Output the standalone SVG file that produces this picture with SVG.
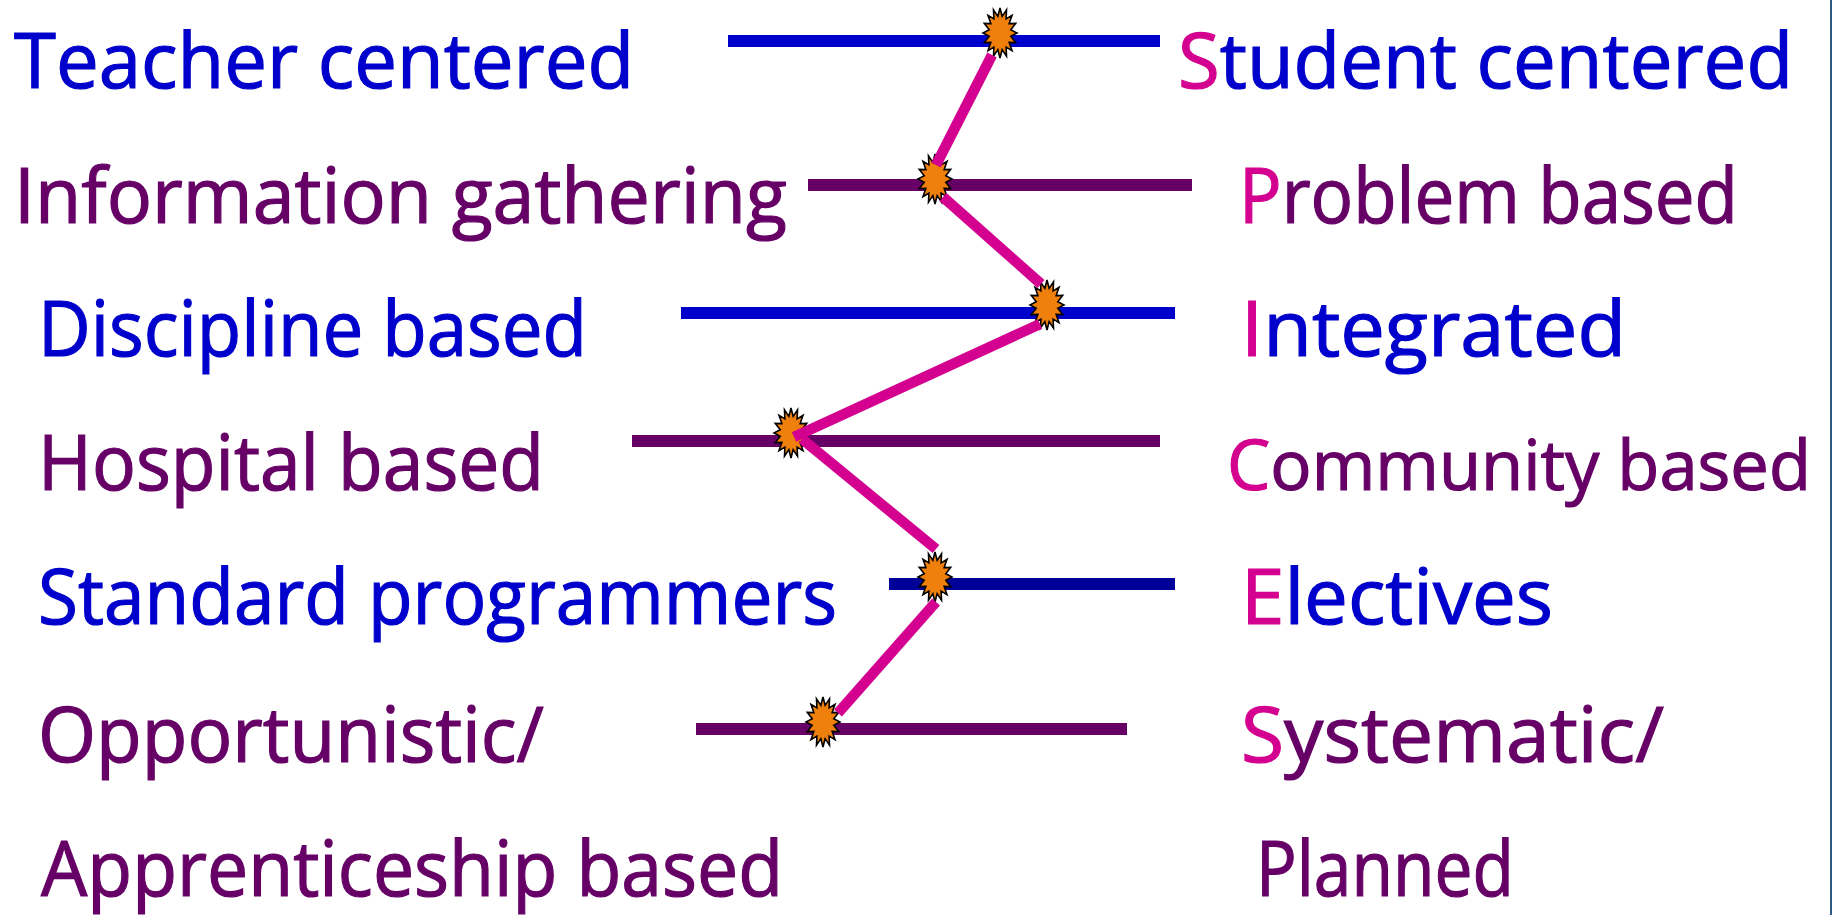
<svg xmlns="http://www.w3.org/2000/svg" xmlns:xlink="http://www.w3.org/1999/xlink" width="1841" height="915" viewBox="0 0 1841 915">
  <style>
    .lbl { font-family: "Open Sans", "Noto Sans", "DejaVu Sans", sans-serif; font-size: 76px; stroke-width: 1.2; }
    .blue { fill: #0000CC; stroke: #0000CC; }
    .purple { fill: #660066; stroke: #660066; }
    .pink { fill: #D4008F; stroke: #D4008F; }
    .bar { stroke-width: 12; fill: none; }
    .bar-blue { stroke: #0000CC; }
    .bar-purple { stroke: #660066; }
    .bar-navy { stroke: #000099; }
    .conn { stroke: #D4008F; stroke-width: 10.5; fill: none; stroke-linecap: butt; }
    .star { fill: #F0800C; stroke: #000000; stroke-width: 1.6; stroke-linejoin: miter; }
  </style>
  <defs>
    <polygon id="burst" class="star" points="0,-25 2.15,-16.67 6.51,-23.1 6.11,-14.13 12.02,-17.68 9.15,-9.44 15.71,-9.57 10.79,-3.32 17,0 10.79,3.32 15.71,9.57 9.15,9.44 12.02,17.68 6.11,14.13 6.51,23.1 2.15,16.67 0,25 -2.15,16.67 -6.51,23.1 -6.11,14.13 -12.02,17.68 -9.15,9.44 -15.71,9.57 -10.79,3.32 -17,0 -10.79,-3.32 -15.71,-9.57 -9.15,-9.44 -12.02,-17.68 -6.11,-14.13 -6.51,-23.1 -2.15,-16.67"/>
  </defs>
  <rect x="0" y="0" width="1841" height="915" fill="#FFFFFF"/>
  <line x1="1831" y1="0" x2="1831" y2="915" stroke="#2E5A80" stroke-width="2"/>

  <g id="labels-left">
    <text id="t-teacher" class="lbl blue" x="14" y="88" textLength="620" lengthAdjust="spacingAndGlyphs">Teacher centered</text>
    <text id="t-info" class="lbl purple" x="14" y="223" textLength="773" lengthAdjust="spacingAndGlyphs">Information gathering</text>
    <text id="t-discipline" class="lbl blue" x="38" y="356" textLength="549" lengthAdjust="spacingAndGlyphs">Discipline based</text>
    <text id="t-hospital" class="lbl purple" x="38" y="490" textLength="506" lengthAdjust="spacingAndGlyphs">Hospital based</text>
    <text id="t-standard" class="lbl blue" x="38" y="624" textLength="799" lengthAdjust="spacingAndGlyphs">Standard programmers</text>
    <text id="t-opportunistic" class="lbl purple" x="38" y="762" textLength="506" lengthAdjust="spacingAndGlyphs">Opportunistic/</text>
    <text id="t-apprenticeship" class="lbl purple" x="41" y="896" textLength="742" lengthAdjust="spacingAndGlyphs">Apprenticeship based</text>
  </g>

  <g id="labels-right">
    <text id="t-student" class="lbl blue" x="1178" y="88" textLength="615" lengthAdjust="spacingAndGlyphs"><tspan class="pink">S</tspan>tudent centered</text>
    <text id="t-problem" class="lbl purple" x="1239" y="223" textLength="499" lengthAdjust="spacingAndGlyphs"><tspan class="pink">P</tspan>roblem based</text>
    <text id="t-integrated" class="lbl blue" x="1241" y="356" textLength="385" lengthAdjust="spacingAndGlyphs"><tspan class="pink">I</tspan>ntegrated</text>
    <text id="t-community" class="lbl purple" x="1227" y="490" font-size="70" style="font-size:70px" textLength="584" lengthAdjust="spacingAndGlyphs"><tspan class="pink">C</tspan>ommunity based</text>
    <text id="t-electives" class="lbl blue" x="1241" y="624" textLength="312" lengthAdjust="spacingAndGlyphs"><tspan class="pink">E</tspan>lectives</text>
    <text id="t-systematic" class="lbl purple" x="1241" y="762" textLength="423" lengthAdjust="spacingAndGlyphs"><tspan class="pink">S</tspan>ystematic/</text>
    <text id="t-planned" class="lbl purple" x="1256" y="896" textLength="258" lengthAdjust="spacingAndGlyphs">Planned</text>
  </g>

  <g id="scales">
    <line id="bar-1" class="bar bar-blue" x1="728" y1="41" x2="1160" y2="41"/>
    <line id="bar-2" class="bar bar-purple" x1="808" y1="185" x2="1192" y2="185"/>
    <line id="bar-3" class="bar bar-blue" x1="681" y1="313" x2="1175" y2="313"/>
    <line id="bar-4" class="bar bar-purple" x1="632" y1="441" x2="1160" y2="441"/>
    <line id="bar-5" class="bar bar-navy" x1="889" y1="584" x2="1175" y2="584"/>
    <line id="bar-6" class="bar bar-purple" x1="696" y1="729" x2="1127" y2="729"/>
  </g>

  <g id="markers">
    <use id="star-1" xlink:href="#burst" href="#burst" x="1000" y="33"/>
    <use id="star-2" xlink:href="#burst" href="#burst" x="935" y="179"/>
    <use id="star-3" xlink:href="#burst" href="#burst" x="1047" y="305"/>
    <use id="star-4" xlink:href="#burst" href="#burst" x="791" y="433"/>
    <use id="star-5" xlink:href="#burst" href="#burst" x="935" y="577"/>
    <use id="star-6" xlink:href="#burst" href="#burst" x="823" y="722"/>
  </g>

  <g id="connectors">
    <line class="conn" x1="992" y1="55" x2="936" y2="165"/>
    <line class="conn" x1="943" y1="197" x2="1041" y2="284"/>
    <line class="conn" x1="1040" y1="324" x2="794" y2="437"/>
    <line class="conn" x1="802" y1="439" x2="936" y2="549"/>
    <line class="conn" x1="936" y1="602" x2="838" y2="713"/>
  </g>
</svg>
